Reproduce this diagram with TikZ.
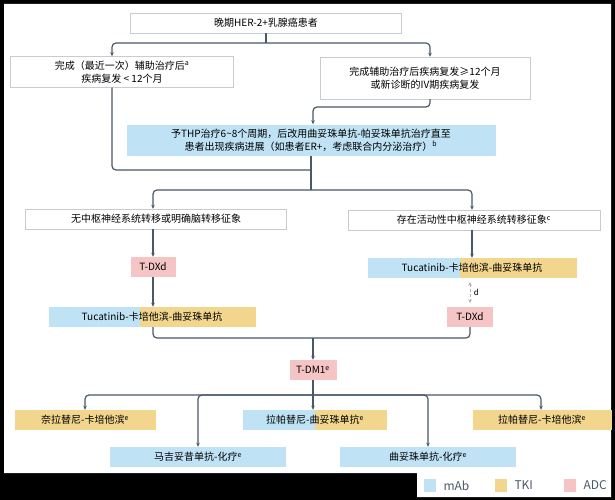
\documentclass[tikz,border=0pt]{standalone}
\usepackage{fontspec}
\setmainfont{Noto Sans CJK SC}
\usetikzlibrary{arrows.meta}
\definecolor{mab}{HTML}{BFE3F5}
\definecolor{tki}{HTML}{F2D68E}
\definecolor{adc}{HTML}{F5C4C4}
\definecolor{ln}{HTML}{4A5868}
\definecolor{bd}{HTML}{C8CCD0}

\begin{document}
\begin{tikzpicture}[x=1pt,y=-1pt,>={Stealth[length=4pt,width=3.5pt]},
  font=\fontsize{10}{13}\selectfont]
  \tikzset{
    plain/.style={draw=bd,fill=white,minimum height=20pt,inner sep=2pt,align=center},
    blk/.style={minimum height=20pt,inner sep=2pt,align=center},
    split/.style={blk,fill=tki,path picture={
      \fill[mab] (path picture bounding box.south west) rectangle ([xshift=#1]path picture bounding box.north west);}},
    link/.style={draw=ln,line width=1.2pt,rounded corners=4pt}
  }

% frame
\fill[black] (0,0) rectangle (615,500);
\fill[white] (4,4) -- (611,4) -- (611,497) -- (417,497) -- (417,473) -- (4,473) -- cycle;

% boxes
\node[plain,minimum width=271pt] (top) at (266,23) {晚期HER-2+乳腺癌患者};
\node[plain,minimum width=223pt,minimum height=31pt] (early) at (122,72) {完成（最近一次）辅助治疗后\textsuperscript{a}\\疾病复发 < 12个月};
\node[plain,minimum width=210pt,minimum height=42pt] (late) at (425,78) {完成辅助治疗后疾病复发≥12个月\\或新诊断的IV期疾病复发};
\node[blk,fill=mab,minimum width=369pt,minimum height=31pt] (thp) at (311,140) {予THP治疗6\textasciitilde 8个周期，后改用曲妥珠单抗-帕妥珠单抗治疗直至\\患者出现疾病进展（如患者ER+，考虑联合内分泌治疗）\textsuperscript{b}};
\node[plain,minimum width=261pt] (nocns) at (156,219) {无中枢神经系统转移或明确脑转移征象};
\node[plain,minimum width=252pt] (cns) at (474,220) {存在活动性中枢神经系统转移征象\textsuperscript{c}};
\node[blk,fill=adc,minimum width=45pt] (dxdl) at (153,267) {T-DXd};
\node[split=92pt,minimum width=209pt] (tucr) at (472,268) {Tucatinib-卡培他滨-曲妥珠单抗};
\node[split=91pt,minimum width=207pt] (tucl) at (152,317) {Tucatinib-卡培他滨-曲妥珠单抗};
\node[blk,fill=adc,minimum width=46pt] (dxdr) at (470,317) {T-DXd};
\node[blk,fill=adc,minimum width=47pt] (dm1) at (313,370) {T-DM1\textsuperscript{e}};
\node[blk,fill=tki,minimum width=141pt] (nera) at (85,420) {奈拉替尼-卡培他滨\textsuperscript{e}};
\node[split=72pt,minimum width=144pt] (lapt) at (315,420) {拉帕替尼-曲妥珠单抗\textsuperscript{e}};
\node[blk,fill=tki,minimum width=139pt] (lapc) at (542,420) {拉帕替尼-卡培他滨\textsuperscript{e}};
\node[blk,fill=mab,minimum width=176pt] (marg) at (198,457) {马吉妥昔单抗-化疗\textsuperscript{e}};
\node[blk,fill=mab,minimum width=176pt] (tras) at (428,457) {曲妥珠单抗-化疗\textsuperscript{e}};

% connectors
\coordinate (s1) at (266,43);
\coordinate (s2) at (311,170);
\coordinate (s3) at (311,190);
\coordinate (s4) at (313,338);
\coordinate (s5) at (313,395);
\draw[link] (top.south) -- (s1);
\draw[link,->] (s1) -| (early.north -| 112,0);
\draw[link,->] (s1) -| (late.north -| 430,0);
\draw[link,->] (late.south -| 430,0) |- (313,107) -- (thp.north -| 313,0);
\draw[link] (early.south -| 112,0) |- (s2);
\draw[link] (thp.south) -- (s3);
\draw[link,->] (s3) -| (nocns.north -| 153,0);
\draw[link,->] (s3) -| (cns.north -| 472,0);
\draw[link,->] (nocns.south -| 153,0) -- (dxdl);
\draw[link,->] (cns.south -| 472,0) -- (tucr);
\draw[link,->] (dxdl) -- (tucl.north -| 153,0);
\draw[draw=gray!60,densely dashed,line width=0.9pt,{Stealth[length=3.5pt,width=3.5pt]}-{Stealth[length=3.5pt,width=3.5pt]}]
  ([yshift=-4pt]tucr.south -| 470,0) -- node[right,font=\fontsize{8}{9}\selectfont] {d} ([yshift=4pt]dxdr.north);
\draw[link] (tucl.south -| 153,0) |- (s4) -| (dxdr.south);
\draw[link,->] (s4) -- (dm1);
\draw[link] (dm1) -- (s5);
\draw[link,->] (s5) -| (nera);
\draw[link,->] (s5) -| (lapc.north -| 541,0);
\draw[link,->] (s5) -- (lapt.north -| 313,0);
\draw[link,->] (s5) -| (marg);
\draw[link,->] (s5) -| (tras);

% legend
\foreach \c/\t/\x in {mab/mAb/430, tki/TKI/501, adc/ADC/570} {
  \fill[\c] (\x-6,479) rectangle (\x+6,492);
  \node[anchor=west,font=\fontsize{12}{14}\selectfont,text=ln] (lg\t) at (\x+10,485.5) {\t};
}
\end{tikzpicture}
\end{document}
